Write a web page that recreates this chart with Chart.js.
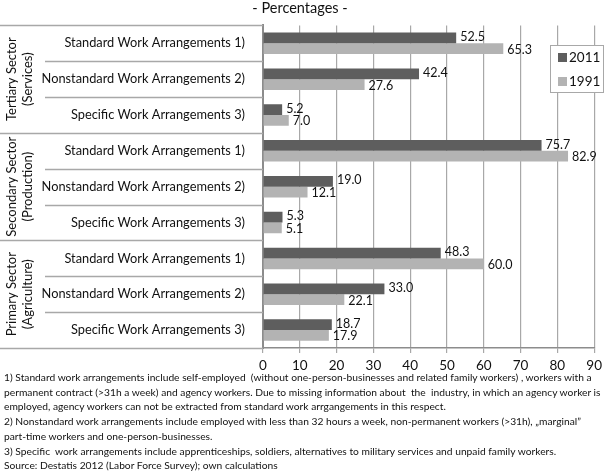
<!DOCTYPE html>
<html>
<head>
<meta charset="utf-8">
<script src="https://cdn.jsdelivr.net/npm/chart.js@4"></script>
<style>
  html, body { margin: 0; padding: 0; background: #fff; }
  #wrap { position: relative; width: 607px; height: 474px; }
  #notes {
    position: absolute; left: 4px; top: 370px; width: 603px;
    font-family: Lato, sans-serif; font-size: 10.25px; line-height: 14.7px; color: #111;
    white-space: nowrap;
  }
</style>
</head>
<body>
<div id="wrap">
  <canvas id="grafica" width="607" height="474"></canvas>
  <div id="notes"></div>
</div>
<script>
const sectores = [
  ["Tertiary Sector", "(Services)"],
  ["Secondary Sector", "(Production)"],
  ["Primary Sector", "(Agriculture)"],
];
const arreglos = [
  "Standard Work Arrangements 1)",
  "Nonstandard Work Arrangements 2)",
  "Specific Work Arrangements 3)",
];
const years = ["2011", "1991"];
const valores2011 = [52.5, 42.4, 5.2, 75.7, 19.0, 5.3, 48.3, 33.0, 18.7];
const valores1991 = [65.3, 27.6, 7.0, 82.9, 12.1, 5.1, 60.0, 22.1, 17.9];
const xMin = 0, xMax = 90, xStep = 10;

const notas = [
  "1) Standard work arrangements include self-employed  (without one-person-businesses and related family workers) , workers with a",
  "permanent contract (>31h a week) and agency workers. Due to missing information about  the  industry, in which an agency worker is",
  "employed, agency workers can not be extracted from standard work arrgangements in this respect.",
  "2) Nonstandard work arrangements include employed with less than 32 hours a week, non-permanent workers (>31h), \u201emarginal\u201d",
  "part-time workers and one-person-businesses.",
  "3) Specific  work arrangements include apprenticeships, soldiers, alternatives to military services and unpaid family workers.",
  "Source: Destatis 2012 (Labor Force Survey); own calculations",
];
document.getElementById("notes").innerHTML = notas
  .map((n) => "<div>" + n.replace(/</g, "&lt;").replace(/>/g, "&gt;").replace(/  /g, " &nbsp;") + "</div>")
  .join("");

const labels = sectores.flatMap(() => arreglos);
const fuente = "Lato, sans-serif";

// tabla de la izquierda, etiquetas de valores y leyenda
const tablaPlugin = {
  id: "tabla",
  afterDraw(chart) {
    const { ctx, chartArea, scales } = chart;
    const filaH = (chartArea.bottom - chartArea.top) / labels.length;
    ctx.save();
    ctx.strokeStyle = "#a8a8a8";
    ctx.lineWidth = 1.5;
    for (let i = 0; i <= labels.length; i++) {
      const yy = Math.round(chartArea.top + i * filaH) + 0.5;
      const x0 = i % 3 === 0 ? 0 : 45;
      ctx.beginPath();
      ctx.moveTo(x0, yy);
      ctx.lineTo(chartArea.left, yy);
      ctx.stroke();
    }

    ctx.fillStyle = "#111";
    ctx.font = "13px " + fuente;
    ctx.textAlign = "center";
    ctx.textBaseline = "middle";
    sectores.forEach((s, k) => {
      const centro = scales.y.getPixelForValue(k * 3 + 1);
      [12, 28].forEach((px, j) => {
        ctx.save();
        ctx.translate(px, centro);
        ctx.rotate(-Math.PI / 2);
        ctx.fillText(s[j], 0, 0);
        ctx.restore();
      });
    });

    ctx.font = "12.5px " + fuente;
    ctx.textAlign = "left";
    chart.data.datasets.forEach((ds, d) => {
      chart.getDatasetMeta(d).data.forEach((bar, i) => {
        ctx.fillText(ds.data[i].toFixed(1), bar.x + 4, bar.y + (d === 0 ? -1 : 1));
      });
    });

    // leyenda
    ctx.fillStyle = "#fff";
    ctx.fillRect(550, 45, 54, 47);
    ctx.strokeStyle = "#a8a8a8";
    ctx.lineWidth = 1;
    ctx.strokeRect(550.5, 45.5, 53, 47);
    ctx.font = "13.5px " + fuente;
    chart.data.datasets.forEach((ds, d) => {
      const yy = 57 + d * 24;
      ctx.fillStyle = ds.backgroundColor;
      ctx.fillRect(558, yy - 4, 9, 9);
      ctx.fillStyle = "#111";
      ctx.fillText(ds.label, 569, yy + 1);
    });
    ctx.restore();
  },
};

const ctx1 = document.getElementById("grafica").getContext("2d");
const chart1 = new Chart(ctx1, {
  type: "bar",
  data: {
    labels: labels,
    datasets: [
      { label: years[0], data: valores2011, backgroundColor: "#5e5e5e" },
      { label: years[1], data: valores1991, backgroundColor: "#b3b3b3" },
    ],
  },
  options: {
    indexAxis: "y",
    responsive: false,
    animation: false,
    categoryPercentage: 0.6,
    barPercentage: 1.0,
    layout: { padding: { left: 0, right: 7, top: 0, bottom: 96 } },
    plugins: {
      legend: { display: false },
      tooltip: { enabled: false },
      title: {
        display: true,
        text: "- Percentages -",
        color: "#111",
        font: { family: fuente, size: 14.5, weight: "normal" },
        padding: { top: 0, bottom: 8 },
      },
    },
    scales: {
      x: {
        min: xMin,
        max: xMax,
        afterFit: (scale) => { scale.height = 30; },
        ticks: { stepSize: xStep, color: "#111", font: { family: fuente, size: 13.5 }, padding: 5 },
        grid: { color: "#a8a8a8", lineWidth: 1.2, tickLength: 5 },
        border: { color: "#8c8c8c", width: 1.5 },
      },
      y: {
        afterFit: (scale) => { scale.width = 263; },
        ticks: { color: "#111", font: { family: fuente, size: 12.8 }, padding: 10, autoSkip: false },
        grid: { display: false },
        border: { color: "#8c8c8c", width: 2 },
      },
    },
  },
  plugins: [tablaPlugin],
});
</script>
</body>
</html>
